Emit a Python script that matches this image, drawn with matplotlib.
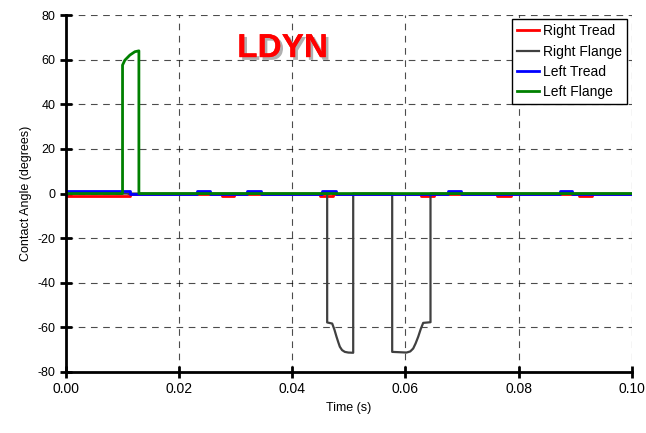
import matplotlib.pyplot as plt
import matplotlib.patheffects as pe

plt.rcParams["font.family"] = ["Liberation Sans", "DejaVu Sans"]
plt.rcParams["axes.unicode_minus"] = False

# Right tread: short negative contact-angle blips (start, end) in seconds
right_tread_spans = [(0.0002, 0.0113), (0.0276, 0.0297), (0.0449, 0.0472),
                     (0.0627, 0.0650), (0.0762, 0.0786), (0.0906, 0.0930)]
right_tread_level = -1.2

# Left tread: short positive blips
left_tread_spans = [(0.0002, 0.0113), (0.0231, 0.0254), (0.0320, 0.0345),
                    (0.0452, 0.0477), (0.0675, 0.0698), (0.0873, 0.0894)]
left_tread_level = 1.2

# Right flange: two deep dips
right_flange_t = [0.0, 0.04617, 0.04617, 0.04706, 0.04745, 0.04782, 0.04815,
                  0.04841, 0.04880, 0.04929, 0.04990, 0.05077, 0.05077,
                  0.05766, 0.05766, 0.0602, 0.06085, 0.06137, 0.06180,
                  0.06226, 0.06270, 0.06314, 0.06443, 0.06443, 0.100]
right_flange_a = [0.0, 0.0, -57.8, -58.3, -61.0, -64.2, -66.8,
                  -68.7, -70.2, -71.0, -71.3, -71.4, 0.0,
                  0.0, -71.0, -71.3, -70.8, -69.5, -67.2,
                  -64.2, -60.8, -58.0, -57.7, 0.0, 0.0]

# Left flange: single positive pulse
left_flange_t = [0.0, 0.01001, 0.01001, 0.01042, 0.01131, 0.01219, 0.0129,
                 0.0129, 0.100]
left_flange_a = [0.0, 0.0, 57.6, 59.8, 62.1, 63.6, 64.0, 0.0, 0.0]


def step_series(spans, level):
    t, a = [0.0], [0.0]
    for t0, t1 in spans:
        t += [t0, t0, t1, t1]
        a += [0.0, level, level, 0.0]
    t.append(0.100)
    a.append(0.0)
    return t, a


fig, ax = plt.subplots(figsize=(6.46, 4.33), dpi=100)
fig.subplots_adjust(left=0.102, right=0.978, top=0.965, bottom=0.141)

t, a = step_series(right_tread_spans, right_tread_level)
ax.plot(t, a, color="#ff0000", lw=2.0, label="Right Tread")
ax.plot(right_flange_t, right_flange_a, color="#404040", lw=1.6,
        label="Right Flange")
t, a = step_series(left_tread_spans, left_tread_level)
ax.plot(t, a, color="#0000ff", lw=2.0, label="Left Tread")
ax.plot(left_flange_t, left_flange_a, color="#008000", lw=2.0,
        label="Left Flange")

ax.set_xlim(0, 0.10)
ax.set_ylim(-80, 80)
ax.set_xticks([0.0, 0.02, 0.04, 0.06, 0.08, 0.10])
ax.set_xticklabels(["0.00", "0.02", "0.04", "0.06", "0.08", "0.10"])
ax.set_yticks(range(-80, 81, 20))
ax.grid(True, color="black", ls=(0, (6, 5)), lw=0.8, alpha=0.7)

for s in ("top", "right"):
    ax.spines[s].set_visible(False)
for s in ("left", "bottom"):
    ax.spines[s].set_linewidth(2.0)
ax.tick_params(direction="inout", length=8, width=2.0, labelsize=10)
ax.tick_params(axis="y", labelsize=9)

ax.set_xlabel("Time (s)", fontsize=9)
ax.set_ylabel("Contact Angle (degrees)", fontsize=9)

ax.text(0.0383, 65.0, "LDYN", color="#ff0000", fontsize=24,
        fontweight="bold", ha="center", va="center",
        path_effects=[pe.withSimplePatchShadow(offset=(2, -2),
                                               shadow_rgbFace="#b0b0b0",
                                               alpha=1.0),
                      pe.Normal()])

leg = ax.legend(loc="upper right", bbox_to_anchor=(0.991, 0.988),
                fontsize=10, fancybox=False, framealpha=1.0,
                edgecolor="black", handlelength=1.6, handletextpad=0.25,
                borderpad=0.35, labelspacing=0.45, borderaxespad=0.0)
leg.get_frame().set_linewidth(1.0)

fig.savefig("out.png", dpi=100)
